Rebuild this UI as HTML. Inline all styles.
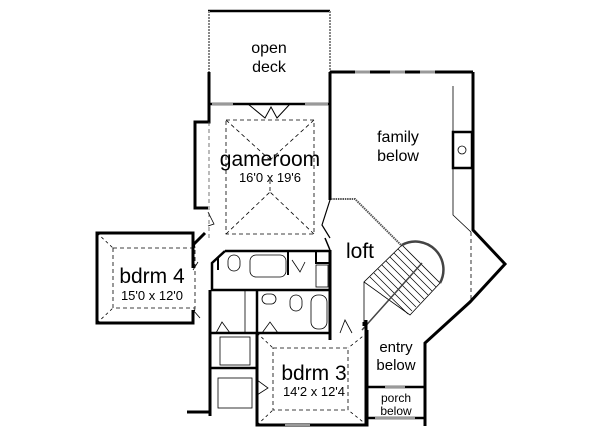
<!DOCTYPE html>
<html><head><meta charset="utf-8"><style>
html,body{margin:0;padding:0;background:#fff;}
svg{display:block;}
text{font-family:"Liberation Sans",Arial,sans-serif;fill:#000;text-anchor:middle;}
</style></head><body>
<svg width="600" height="436" viewBox="0 0 600 436" xmlns="http://www.w3.org/2000/svg">
<g fill="none" stroke="#000" stroke-linejoin="miter">
<!-- open deck -->
<line x1="208" y1="11" x2="330" y2="11" stroke-width="2.5"/>
<line x1="209" y1="11" x2="209" y2="72" stroke="#888" stroke-width="2" stroke-dasharray="2,1"/>
<line x1="330" y1="11" x2="330" y2="72" stroke="#888" stroke-width="2" stroke-dasharray="2,1"/>
<line x1="209" y1="72" x2="209" y2="104" stroke-width="3"/>
<line x1="208" y1="104" x2="330" y2="104" stroke-width="2.5"/>
<line x1="212" y1="104" x2="233" y2="104" stroke="#999" stroke-width="2"/>
<line x1="305" y1="104" x2="328" y2="104" stroke="#999" stroke-width="2"/>
<polyline points="248,104 265,118 271,107 277,118 290,104" stroke-width="1"/>
<!-- gameroom left -->
<polyline points="209,104 209,122 195,122 195,208 208,208" stroke-width="3"/>
<line x1="209" y1="122" x2="209" y2="240" stroke="#555" stroke-width="0.8" stroke-dasharray="4,3"/>
<path d="M208,212 L214,224 L208,226" stroke-width="0.8"/>
<!-- gameroom right / family left -->
<line x1="330" y1="72" x2="330" y2="200" stroke-width="3"/>
<line x1="330" y1="72" x2="473" y2="72" stroke-width="3"/>
<line x1="355" y1="72" x2="370" y2="72" stroke="#999" stroke-width="3"/>
<line x1="390" y1="72" x2="405" y2="72" stroke="#999" stroke-width="3"/>
<line x1="420" y1="72" x2="435" y2="72" stroke="#999" stroke-width="3"/>
<polyline points="330,200 322,225 330,238" stroke-width="1.2"/>
<polyline points="325,238 330,250" stroke-width="1.5"/>
<line x1="330" y1="250" x2="330" y2="340" stroke-width="3"/>
<!-- gameroom dashed -->
<rect x="226" y="120" width="88" height="114" stroke-width="0.8" stroke-dasharray="4,3"/>
<line x1="226" y1="120" x2="270" y2="160" stroke-width="0.8" stroke-dasharray="4,3"/>
<line x1="314" y1="120" x2="270" y2="160" stroke-width="0.8" stroke-dasharray="4,3"/>
<line x1="226" y1="234" x2="270" y2="192" stroke-width="0.8" stroke-dasharray="4,3"/>
<line x1="314" y1="234" x2="270" y2="192" stroke-width="0.8" stroke-dasharray="4,3"/>
<line x1="270" y1="180" x2="270" y2="192" stroke-width="0.8" stroke-dasharray="4,3"/>
<!-- family -->
<polyline points="473,72 473,230 505,264 470,302 425,343 425,426" stroke-width="3"/>
<polyline points="453,86 453,215 471,232" stroke-width="0.8"/>
<line x1="471" y1="232" x2="471" y2="300" stroke-width="0.8" stroke-dasharray="4,3"/>
<rect x="453" y="132" width="19" height="36" stroke-width="2.5"/>
<circle cx="462" cy="150" r="4" stroke-width="0.8"/>
<!-- loft rail -->
<polyline points="331,199 355,199 402,246" stroke="#555" stroke-width="2" stroke-dasharray="1.5,0.8"/>
<!-- stairs -->
<polygon points="402,245 364,282 410,315 440,283" stroke-width="0.8"/>
<g stroke-width="0.7">
<line x1="398" y1="249" x2="436" y2="287"/><line x1="394" y1="253" x2="432" y2="291"/>
<line x1="390" y1="257" x2="428" y2="295"/><line x1="386" y1="261" x2="424" y2="299"/>
<line x1="382" y1="265" x2="420" y2="303"/><line x1="378" y1="269" x2="416" y2="307"/>
<line x1="374" y1="273" x2="412" y2="311"/><line x1="370" y1="277" x2="408" y2="314"/>
</g>
<path d="M402,245 A28,28 0 0 1 440,283" stroke="#444" stroke-width="2.5"/>
<line x1="362" y1="330" x2="422" y2="263" stroke="#444" stroke-width="1.5"/>
<line x1="364" y1="282" x2="364" y2="322" stroke-width="0.8"/>
<!-- entry / porch -->
<line x1="366" y1="320" x2="366" y2="426" stroke-width="3"/>
<line x1="364" y1="322" x2="364" y2="326" stroke-width="3"/>
<line x1="366" y1="387" x2="425" y2="387" stroke-width="2.5"/>
<line x1="366" y1="418" x2="425" y2="418" stroke-width="2.5"/>
<line x1="385" y1="387" x2="405" y2="387" stroke="#999" stroke-width="2"/>
<line x1="375" y1="418" x2="415" y2="418" stroke="#999" stroke-width="2"/>
<!-- bdrm 4 -->
<polyline points="193,268 193,233 97,233 97,323 193,323 193,310" stroke-width="3"/>
<rect x="113" y="248" width="82" height="60" stroke-width="0.8" stroke-dasharray="4,3"/>
<line x1="97" y1="233" x2="113" y2="248" stroke-width="0.8" stroke-dasharray="3,3"/>
<line x1="97" y1="323" x2="113" y2="308" stroke-width="0.8" stroke-dasharray="3,3"/>
<line x1="193" y1="233" x2="195" y2="248" stroke-width="0.8" stroke-dasharray="3,3"/>
<line x1="193" y1="323" x2="195" y2="308" stroke-width="0.8" stroke-dasharray="3,3"/>
<polyline points="193,245 205,233" stroke-width="3"/>
<path d="M193,270 L198,262 M193,310 L200,318" stroke-width="0.8"/>
<!-- baths -->
<polyline points="225,251 330,251" stroke-width="2.5"/>
<polyline points="225,251 212,263 212,290 330,290" stroke-width="2.5"/>
<line x1="288" y1="251" x2="288" y2="275" stroke-width="2"/>
<line x1="218" y1="257" x2="218" y2="270" stroke-width="2"/>
<rect x="228" y="255" width="12" height="16" rx="6" stroke-width="0.8"/>
<rect x="250" y="255" width="36" height="22" rx="6" stroke-width="0.8"/>
<rect x="316" y="265" width="12" height="22" stroke-width="0.8"/>
<rect x="316" y="251" width="14" height="12" stroke-width="2"/>
<polyline points="292,260 300,272 305,262" stroke-width="0.8"/>
<line x1="257" y1="290" x2="257" y2="333" stroke-width="2.5"/>
<line x1="245" y1="290" x2="245" y2="333" stroke-width="0.8"/>
<rect x="262" y="294" width="14" height="10" rx="5" stroke-width="0.8"/>
<rect x="290" y="295" width="12" height="16" rx="6" stroke-width="0.8"/>
<rect x="311" y="295" width="16" height="34" rx="7" stroke-width="0.8"/>
<line x1="210" y1="290" x2="210" y2="416" stroke-width="3"/>
<line x1="210" y1="333" x2="257" y2="333" stroke-width="2.5"/>
<polyline points="216,333 222,322 230,333" stroke-width="0.8"/>
<rect x="220" y="337" width="30" height="28" stroke-width="0.8"/>
<line x1="210" y1="368" x2="257" y2="368" stroke-width="2.5"/>
<rect x="218" y="378" width="34" height="30" stroke-width="0.8"/>
<line x1="187" y1="412" x2="210" y2="412" stroke-width="3"/>
<!-- bdrm 3 -->
<polyline points="257,333 330,333" stroke-width="2.5"/>
<polyline points="257,333 257,425 367,425 367,330" stroke-width="3"/>
<polyline points="262,333 270,322 278,333" stroke-width="0.8"/>
<polyline points="340,333 345,320 352,333" stroke-width="0.8"/>
<rect x="273" y="348" width="75" height="62" stroke-width="0.8" stroke-dasharray="4,3"/>
<line x1="257" y1="333" x2="273" y2="348" stroke-width="0.8" stroke-dasharray="3,3"/>
<line x1="367" y1="333" x2="348" y2="348" stroke-width="0.8" stroke-dasharray="3,3"/>
<line x1="257" y1="425" x2="273" y2="410" stroke-width="0.8" stroke-dasharray="3,3"/>
<line x1="367" y1="425" x2="348" y2="410" stroke-width="0.8" stroke-dasharray="3,3"/>
<path d="M257,380 L268,388 L257,395" stroke-width="0.8"/>
<line x1="285" y1="425" x2="310" y2="425" stroke="#999" stroke-width="2"/>
</g>
<text x="269" y="53" font-size="16">open</text>
<text x="269" y="72" font-size="16">deck</text>
<text x="270" y="166" font-size="21">gameroom</text>
<text x="270" y="182" font-size="13">16'0 x 19'6</text>
<text x="398" y="142" font-size="16">family</text>
<text x="398" y="161" font-size="16">below</text>
<text x="360" y="258" font-size="21">loft</text>
<text x="152" y="283" font-size="21">bdrm 4</text>
<text x="152" y="300" font-size="13">15'0 x 12'0</text>
<text x="314" y="380" font-size="21">bdrm 3</text>
<text x="314" y="396" font-size="13">14'2 x 12'4</text>
<text x="396" y="352" font-size="15">entry</text>
<text x="396" y="370" font-size="15">below</text>
<text x="396" y="402" font-size="12">porch</text>
<text x="396" y="415" font-size="12">below</text>
</svg>
</body></html>
